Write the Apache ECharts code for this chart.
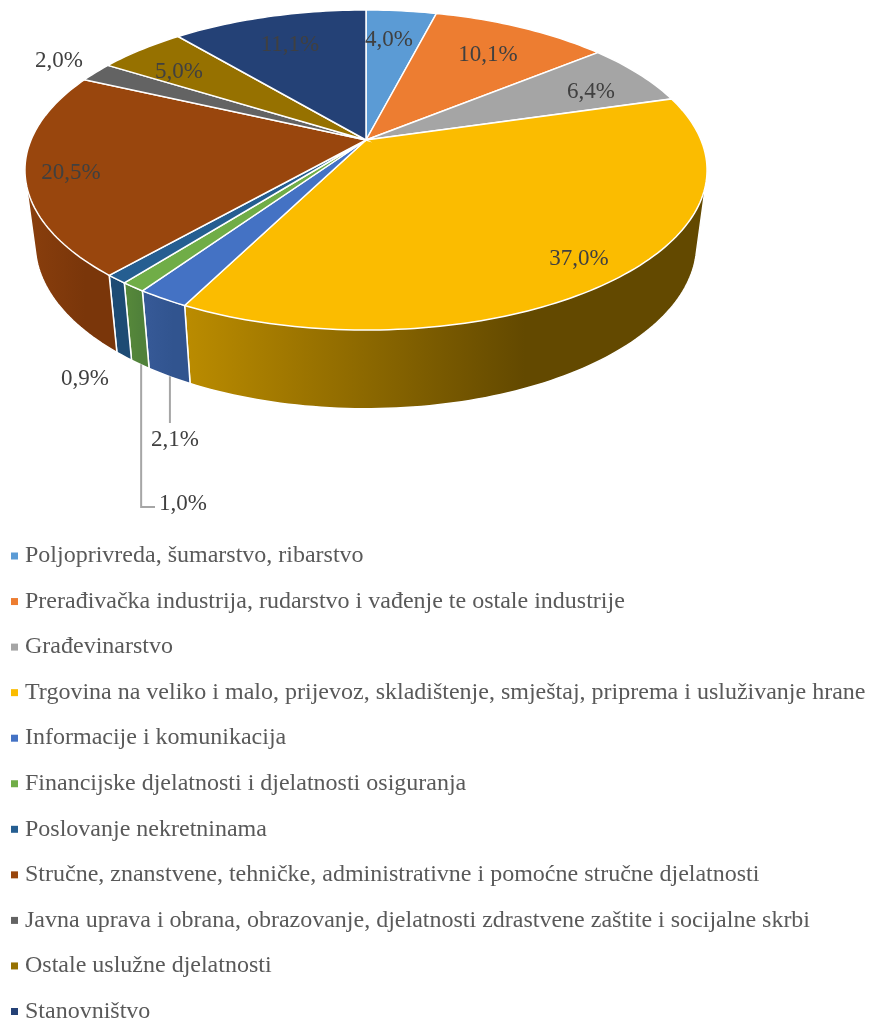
<!DOCTYPE html>
<html>
<head>
<meta charset="utf-8">
<title>Struktura po djelatnostima</title>
<style>
  html, body { margin: 0; padding: 0; background: #fff; }
  #main { width: 870px; height: 1021px; }
</style>
<script src="https://cdn.jsdelivr.net/npm/echarts@6/dist/echarts.min.js"></script>
</head>
<body>
<div id="main"></div>
<script>
var categories = [
  'Poljoprivreda, šumarstvo, ribarstvo',
  'Prerađivačka industrija, rudarstvo i vađenje te ostale industrije',
  'Građevinarstvo',
  'Trgovina na veliko i malo, prijevoz, skladištenje, smještaj, priprema i usluživanje hrane',
  'Informacije i komunikacija',
  'Financijske djelatnosti i djelatnosti osiguranja',
  'Poslovanje nekretninama',
  'Stručne, znanstvene, tehničke, administrativne i pomoćne stručne djelatnosti',
  'Javna uprava i obrana, obrazovanje, djelatnosti zdrastvene zaštite i socijalne skrbi',
  'Ostale uslužne djelatnosti',
  'Stanovništvo'
];
var shares = [4.0, 10.1, 6.4, 37.0, 2.1, 1.0, 0.9, 20.5, 2.0, 5.0, 11.1];
var colors = ['#5b9bd5', '#ed7d31', '#a5a5a5', '#fbbc00', '#4472c4', '#70ad47', '#255e91', '#99460d', '#636363', '#967100', '#244176'];
// side wall gradient of every slice
var sideColors = [
  ['#44749f', '#44749f'], ['#b25d25', '#b25d25'], ['#7c7c7c', '#7c7c7c'],
  ['#bb8c00', '#634900'], ['#375a98', '#31548f'], ['#588a3a', '#50813a'],
  ['#1d4b74', '#1d4b74'], ['#8a3f0d', '#7a360a'], ['#4a4a4a', '#4a4a4a'],
  ['#725600', '#725600'], ['#1c3359', '#1c3359']
];

// label centres and leader ends, by slice (null x = straight down from the rim)
var labelPos = [[389, 40], [488, 55], [591, 92], [579, 259], [175, 440], [183, 504], [85, 379], [71, 173], [59, 61], [179, 72], [290, 45]];
var leaderEnd = { 4: [[null, 423]], 5: [[null, 507], [155, 507]] };

// perspective of the disc
var CX = 366, TOP_Y = 140, LOW_Y = 213;
var FX = 335, FY = 154.4, K = 0.1875, LOW_SCALE_X = 0.97, LOW_SCALE_Y = 1.03;

var total = shares.reduce(function (a, b) { return a + b; }, 0);

function rim(pct, low) {
  var a = pct / total * Math.PI * 2;
  var u = Math.sin(a), v = -Math.cos(a);
  var d = 1 - K * v;
  if (low) return [CX + FX * LOW_SCALE_X * u / d, LOW_Y + FY * LOW_SCALE_Y * v / d];
  return [CX + FX * u / d, TOP_Y + FY * v / d];
}

function arc(from, to, low) {
  var pts = [];
  var n = Math.max(2, Math.ceil((to - from) * 3));
  for (var i = 0; i <= n; i++) pts.push(rim(from + (to - from) * i / n, low));
  return pts;
}

// outline of the wall; the part above the rim is hidden by the top faces
function hull(points) {
  var p = points.slice().sort(function (a, b) { return a[0] - b[0] || a[1] - b[1]; });
  function cross(o, a, b) { return (a[0] - o[0]) * (b[1] - o[1]) - (a[1] - o[1]) * (b[0] - o[0]); }
  function half(list) {
    var out = [];
    list.forEach(function (q) {
      while (out.length > 1 && cross(out[out.length - 2], out[out.length - 1], q) <= 0) out.pop();
      out.push(q);
    });
    out.pop();
    return out;
  }
  return half(p).concat(half(p.slice().reverse()));
}

function renderSlice(idx) {
  return function (params, api) {
    var from = api.value(0), to = api.value(1);
    var topArc = arc(from, to, false);
    var lowArc = arc(from, to, true);
    var side = sideColors[idx];
    var text = shares[idx].toFixed(1).replace('.', ',') + '%';
    var children = [
      {
        type: 'polygon', z2: 1,
        shape: { points: hull(topArc.concat(lowArc)) },
        style: {
          fill: new echarts.graphic.LinearGradient(0, 0, 1, 0, [
            { offset: 0, color: side[0] },
            { offset: 0.65, color: side[1] },
            { offset: 1, color: side[1] }
          ]),
          stroke: '#fff', lineWidth: 1.5
        }
      },
      {
        type: 'polygon', z2: 2,
        shape: { points: [[CX, TOP_Y]].concat(topArc) },
        style: { fill: colors[idx], stroke: '#fff', lineWidth: 1.5 }
      },
      {
        type: 'text', z2: 4,
        style: {
          x: labelPos[idx][0], y: labelPos[idx][1], text: text,
          fill: '#404040', font: '23px "Liberation Serif"',
          align: 'center', verticalAlign: 'middle'
        }
      }
    ];
    if (leaderEnd[idx]) {
      var start = rim((from + to) / 2, true);
      start = [start[0] + 1, start[1]];
      var pts = [start];
      leaderEnd[idx].forEach(function (p) {
        pts.push([p[0] === null ? start[0] : p[0], p[1]]);
      });
      children.push({
        type: 'polyline', z2: 3,
        shape: { points: pts },
        style: { fill: 'none', stroke: '#a6a6a6', lineWidth: 2 }
      });
    }
    return { type: 'group', children: children };
  };
}

var series = [];
var running = 0;
categories.forEach(function (name, i) {
  series.push({
    name: name,
    type: 'custom',
    coordinateSystem: 'none',
    silent: true,
    animation: false,
    itemStyle: { color: colors[i] },
    data: [[running, running + shares[i]]],
    renderItem: renderSlice(i)
  });
  running += shares[i];
});

var chart = echarts.init(document.getElementById('main'));
chart.setOption({
  animation: false,
  backgroundColor: '#fff',
  legend: {
    orient: 'vertical',
    left: 11,
    top: 544,
    height: 500,
    padding: 0,
    itemWidth: 7,
    itemHeight: 7,
    itemGap: 21.55,
    icon: 'rect',
    selectedMode: false,
    data: categories,
    textStyle: {
      color: '#595959',
      fontFamily: '"Liberation Serif"',
      fontSize: 24,
      lineHeight: 20,
      padding: [0, 0, 0, 2]
    }
  },
  series: series
});
</script>
</body>
</html>
